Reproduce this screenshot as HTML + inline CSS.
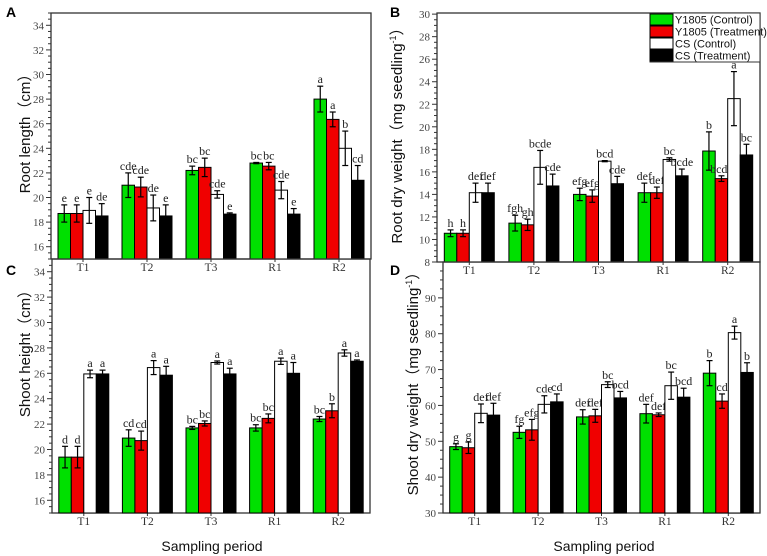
<!DOCTYPE html>
<html><head><meta charset="utf-8"><style>
body{margin:0;background:#fff}
svg{display:block}
</style></head><body>
<svg id="fig" width="767" height="556" viewBox="0 0 767 556" xmlns="http://www.w3.org/2000/svg"></svg>
<script>
const categories=["T1","T2","T3","R1","R2"];
const seriesNames=["Y1805 (Control)","Y1805 (Treatment)","CS (Control)","CS (Treatment)"];
// Panel A root length
const aGreen=[18.7,21.0,22.2,22.8,28.0], aGreenErr=[0.7,1.0,0.35,0.05,1.05];
const aRed=[18.7,20.85,22.45,22.55,26.35], aRedErr=[0.7,0.8,0.75,0.3,0.6];
const aWhite=[18.95,19.15,20.25,20.6,24.0], aWhiteErr=[1.05,1.05,0.3,0.7,1.4];
const aBlack=[18.5,18.5,18.65,18.65,21.4], aBlackErr=[1.0,0.9,0.1,0.45,1.2];
const aLetters=[["e","e","e","de"],["cde","cde","de","e"],["bc","bc","cde","e"],["bc","bc","cde","e"],["a","a","b","cd"]];
const aTicks=[16,18,20,22,24,26,28,30,32,34];
// Panel B root dry weight
const bGreen=[10.55,11.45,14.0,14.15,17.85], bGreenErr=[0.3,0.7,0.55,0.85,1.7];
const bRed=[10.55,11.3,13.85,14.15,15.4], bRedErr=[0.3,0.5,0.55,0.5,0.25];
const bWhite=[14.15,16.4,16.95,17.1,22.5], bWhiteErr=[0.85,1.5,0.05,0.15,2.4];
const bBlack=[14.15,14.75,14.95,15.65,17.5], bBlackErr=[0.85,1.05,0.65,0.6,0.95];
const bLetters=[["h","h","def","def"],["fgh","gh","bcde","cde"],["efg","efg","bcd","cde"],["def","def","bc","bcde"],["b","bcde","a","bc"]];
const bTicks=[8,10,12,14,16,18,20,22,24,26,28,30];
// Panel C shoot height
const cGreen=[19.4,20.9,21.7,21.7,22.4], cGreenErr=[0.85,0.65,0.12,0.25,0.2];
const cRed=[19.4,20.7,22.05,22.45,23.05], cRedErr=[0.85,0.75,0.2,0.35,0.55];
const cWhite=[25.95,26.45,26.85,26.95,27.6], cWhiteErr=[0.3,0.55,0.12,0.25,0.25];
const cBlack=[25.95,25.85,25.95,26.0,26.95], cBlackErr=[0.3,0.7,0.45,0.85,0.1];
const cLetters=[["d","d","a","a"],["cd","cd","a","a"],["bc","bc","a","a"],["bc","bc","a","a"],["bc","b","a","a"]];
const cTicks=[16,18,20,22,24,26,28,30,32,34];
// Panel D shoot dry weight
const dGreen=[48.5,52.5,56.8,57.7,69.0], dGreenErr=[0.8,1.7,2.0,2.6,3.5];
const dRed=[48.2,53.2,57.1,57.4,61.2], dRedErr=[1.6,2.9,1.8,0.5,2.0];
const dWhite=[57.8,60.3,65.8,65.5,80.3], dWhiteErr=[2.6,2.4,0.8,3.8,1.8];
const dBlack=[57.3,61.0,62.1,62.3,69.2], dBlackErr=[3.3,2.2,1.8,2.5,2.7];
const dLetters=[["g","g","def","def"],["fg","efg","cde","cd"],["def","def","bc","bcd"],["def","def","bc","bcd"],["b","cd","a","b"]];
const dTicks=[30,40,50,60,70,80,90];

const fills=["#00e000","#f00000","#ffffff","#000000"];
const NS="http://www.w3.org/2000/svg";
const svg=document.getElementById("fig");
function mk(tag,attrs,parent,text){const e=document.createElementNS(NS,tag);for(const k in attrs)e.setAttribute(k,attrs[k]);if(text!==undefined)e.textContent=text;(parent||svg).appendChild(e);return e;}

function panel(p){
  const g=mk("g",{});
  
  
  const y=v=>p.y1-(v-p.min)/(p.max-p.min)*(p.y1-p.y0);
  const x0=p.x0,x1=p.x1;
  const gw=(x1-x0)/5;
  const cx=i=>x0+gw*(i+0.5)+p.shift;
  const fr=mk("rect",{x:x0,y:p.y0,width:x1-x0,height:p.y1-p.y0,fill:"none",stroke:"#333","stroke-width":1.3},g);
  
  
  const step=p.ticks[1]-p.ticks[0];
  for(let v=p.min;v<=p.max+1e-6;v+=step/4){
    const yy=y(v);const major=p.ticks.some(t=>Math.abs(t-v)<1e-6);
    mk("line",{x1:x0-(major?5:3),x2:x0,y1:yy,y2:yy,stroke:"#333","stroke-width":1},g);
  }
  p.ticks.forEach(t=>{
    const tl=mk("text",{x:x0-7,y:y(t)+4,"text-anchor":"end","font-family":"Liberation Serif, serif","font-size":11,fill:"#444"},g,t);
    
    
  });
  categories.forEach((c,i)=>{
    mk("line",{x1:cx(i),x2:cx(i),y1:p.y1,y2:p.y1+3,stroke:"#333"},g);
    const cl=mk("text",{x:cx(i),y:p.y1+12,"text-anchor":"middle","font-family":"Liberation Serif, serif","font-size":11.5,fill:"#333"},g,c);
    
    
  });
  const bw=12.5;
  p.series.forEach((s,si)=>{
    s.v.forEach((v,i)=>{
      const bx=cx(i)-2*bw+si*bw;
      const r=mk("rect",{x:bx,y:y(v),width:bw,height:p.y1-y(v),fill:fills[si],stroke:"#000","stroke-width":1},g);
      
      
      const m=bx+bw/2,e=s.e[i];
      mk("line",{x1:m,x2:m,y1:y(v+e),y2:y(v-e),stroke:"#000","stroke-width":1.2},g);
      mk("line",{x1:m-3,x2:m+3,y1:y(v+e),y2:y(v+e),stroke:"#000","stroke-width":1.2},g);
      mk("line",{x1:m-3,x2:m+3,y1:y(v-e),y2:y(v-e),stroke:"#000","stroke-width":1.2},g);
      const lt=mk("text",{x:m,y:y(v+e)-3,"text-anchor":"middle","font-family":"Liberation Serif, serif","font-size":12,fill:"#222"},g,p.letters[i][si]);
      
      
    });
  });
  const yt=mk("text",{x:0,y:0,transform:`translate(${p.tx},${p.ty}) rotate(-90)`,"text-anchor":"middle","font-family":"Liberation Sans, sans-serif","font-size":15,fill:"#111"},g);
  
  
  yt.innerHTML=p.title;
  const pl=mk("text",{x:p.lx,y:p.ly,"font-family":"Liberation Sans, sans-serif","font-size":14,"font-weight":"bold",fill:"#000"},g,p.id);
  
  
}

panel({id:"A",x0:51,x1:371,y0:13,y1:259,min:15,max:35,ticks:aTicks,shift:0,
  series:[{v:aGreen,e:aGreenErr},{v:aRed,e:aRedErr},{v:aWhite,e:aWhiteErr},{v:aBlack,e:aBlackErr}],
  letters:aLetters,title:"Root length（cm）",tx:30,ty:130,lx:6,ly:17});
panel({id:"B",x0:437,x1:760,y0:13,y1:262,min:8,max:30.1,ticks:bTicks,shift:0,
  series:[{v:bGreen,e:bGreenErr},{v:bRed,e:bRedErr},{v:bWhite,e:bWhiteErr},{v:bBlack,e:bBlackErr}],
  letters:bLetters,title:'Root dry weight（mg seedling<tspan dy="-6" font-size="9">-1</tspan><tspan dy="6">）</tspan>',tx:402,ty:132,lx:390,ly:17});
panel({id:"C",x0:52,x1:370,y0:259,y1:513,min:15,max:35,ticks:cTicks,shift:0,
  series:[{v:cGreen,e:cGreenErr},{v:cRed,e:cRedErr},{v:cWhite,e:cWhiteErr},{v:cBlack,e:cBlackErr}],
  letters:cLetters,title:"Shoot height（cm）",tx:30,ty:350,lx:6,ly:275});
panel({id:"D",x0:443,x1:760,y0:262,y1:513,min:30,max:100,ticks:dTicks,shift:0,
  series:[{v:dGreen,e:dGreenErr},{v:dRed,e:dRedErr},{v:dWhite,e:dWhiteErr},{v:dBlack,e:dBlackErr}],
  letters:dLetters,title:'Shoot dry weight（mg seedling<tspan dy="-6" font-size="9">-1</tspan><tspan dy="6">）</tspan>',tx:418,ty:380,lx:390,ly:275});

["C","D"].forEach((k,i)=>{
  const t=mk("text",{x:i?604:212,y:551,"text-anchor":"middle","font-family":"Liberation Sans, sans-serif","font-size":14,fill:"#111"},svg,"Sampling period");
  
  
});

const lg=mk("g",{});


mk("rect",{x:650,y:13,width:110,height:49,fill:"#fff",stroke:"#333","stroke-width":1},lg);
seriesNames.forEach((n,i)=>{
  const e=mk("g",{},lg);
  
  
  mk("rect",{x:650,y:14+i*12,width:23,height:11,fill:fills[i],stroke:"#000","stroke-width":1},e);
  mk("text",{x:675,y:23.5+i*12,"font-family":"Liberation Sans, sans-serif","font-size":11,fill:"#111"},e,n);
});
</script>
</body></html>
